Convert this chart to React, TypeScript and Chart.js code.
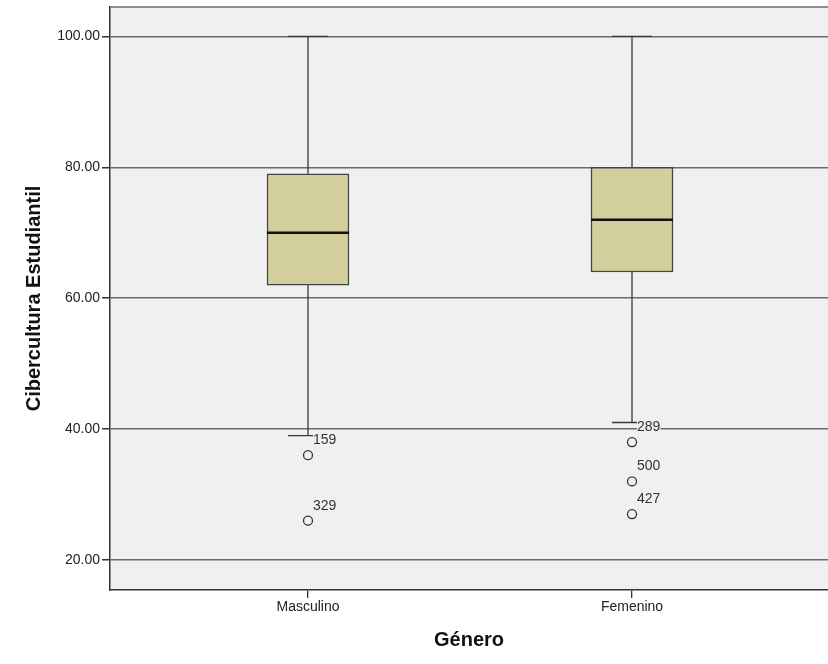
import React, { useEffect, useRef } from "react";
import { Chart, registerables } from "chart.js";

Chart.register(...registerables);

const categories = ["Masculino", "Femenino"];
const q1Values = [62, 64];
const medianValues = [70, 72];
const q3Values = [79, 80];
const whiskerLow = [39, 41];
const whiskerHigh = [100, 100];
const outlierCategory = [0, 0, 1, 1, 1];
const outlierValues = [36, 26, 38, 32, 27];
const outlierLabels = ["159", "329", "289", "500", "427"];
const yTicks = [20, 40, 60, 80, 100];
const yTickLabels = ["20.00", "40.00", "60.00", "80.00", "100.00"];
const yTitle = "Cibercultura Estudiantil";
const xTitle = "Género";

const FONT = "'Liberation Sans', Arial, Helvetica, sans-serif";
const PLOT_BG = "#f0f0f0";
const BOX_FILL = "#d3cf9c";
const LINE = "#3a3a3a";

const boxplotPlugin = {
  id: "boxplotParts",
  beforeDraw(chart: any) {
    const { ctx, chartArea } = chart;
    ctx.save();
    ctx.fillStyle = PLOT_BG;
    ctx.fillRect(chartArea.left, chartArea.top, chartArea.right - chartArea.left, chartArea.bottom - chartArea.top);
    ctx.restore();
  },
  afterDraw(chart: any) {
    const { ctx, chartArea } = chart;
    ctx.save();
    ctx.strokeStyle = "#6e6e6e";
    ctx.lineWidth = 1.5;
    ctx.beginPath();
    ctx.moveTo(chartArea.left, chartArea.top);
    ctx.lineTo(chartArea.right, chartArea.top);
    ctx.stroke();
    ctx.restore();
  },
  beforeDatasetsDraw(chart: any) {
    const { ctx } = chart;
    const xs = chart.scales.x;
    const ys = chart.scales.y;
    const meta = chart.getDatasetMeta(0);
    ctx.save();
    ctx.strokeStyle = LINE;
    ctx.lineWidth = 1.3;
    categories.forEach((_, i) => {
      const bar = meta.data[i];
      const cx = xs.getPixelForValue(i);
      const half = bar.width * 0.245;
      const yHi = ys.getPixelForValue(whiskerHigh[i]);
      const yLo = ys.getPixelForValue(whiskerLow[i]);
      const yQ3 = ys.getPixelForValue(q3Values[i]);
      const yQ1 = ys.getPixelForValue(q1Values[i]);
      ctx.beginPath();
      ctx.moveTo(cx, yQ3);
      ctx.lineTo(cx, yHi);
      ctx.moveTo(cx, yQ1);
      ctx.lineTo(cx, yLo);
      ctx.moveTo(cx - half, yHi);
      ctx.lineTo(cx + half, yHi);
      ctx.moveTo(cx - half, yLo);
      ctx.lineTo(cx + half, yLo);
      ctx.stroke();
    });
    ctx.restore();
  },
  afterDatasetsDraw(chart: any) {
    const { ctx } = chart;
    const xs = chart.scales.x;
    const ys = chart.scales.y;
    const meta = chart.getDatasetMeta(0);
    ctx.save();
    ctx.strokeStyle = "#111";
    ctx.lineWidth = 2.5;
    categories.forEach((_, i) => {
      const bar = meta.data[i];
      const y = ys.getPixelForValue(medianValues[i]);
      ctx.beginPath();
      ctx.moveTo(bar.x - bar.width / 2, y);
      ctx.lineTo(bar.x + bar.width / 2, y);
      ctx.stroke();
    });
    ctx.font = `14px ${FONT}`;
    ctx.textAlign = "left";
    ctx.textBaseline = "middle";
    outlierValues.forEach((v, k) => {
      const px = xs.getPixelForValue(outlierCategory[k]);
      const py = ys.getPixelForValue(v);
      const tx = px + 5;
      const ty = py - 15;
      const w = ctx.measureText(outlierLabels[k]).width;
      ctx.fillStyle = PLOT_BG;
      ctx.fillRect(tx, ty - 6, w, 12);
      ctx.fillStyle = "#333";
      ctx.fillText(outlierLabels[k], tx, ty);
    });
    ctx.restore();
  },
};

export default function App() {
  const ref = useRef<HTMLCanvasElement | null>(null);

  useEffect(() => {
    if (!ref.current) return;
    const chart = new Chart(ref.current, {
      type: "bar",
      data: {
        datasets: [
          {
            type: "bar",
            data: categories.map((_, i) => ({ x: i, y: [q1Values[i], q3Values[i]] })) as any,
            backgroundColor: BOX_FILL,
            borderColor: "#444",
            borderWidth: 1.5,
            borderSkipped: false,
            barThickness: 82,
          } as any,
          {
            type: "scatter",
            data: outlierValues.map((v, k) => ({ x: outlierCategory[k], y: v })),
            pointRadius: 4.5,
            pointBorderWidth: 1.3,
            pointBackgroundColor: "rgba(0,0,0,0)",
            pointBorderColor: "#333",
          } as any,
        ],
      },
      options: {
        responsive: false,
        animation: false,
        events: [],
        layout: { autoPadding: false, padding: { top: 7, right: 0, left: 0, bottom: 0 } },
        plugins: { legend: { display: false }, tooltip: { enabled: false } },
        scales: {
          x: {
            type: "linear",
            offset: false,
            min: -0.6111,
            max: 1.6049,
            afterFit: (s: any) => {
              s.height = 74;
              s.paddingLeft = 0;
              s.paddingRight = 0;
            },
            afterBuildTicks: (s: any) => {
              s.ticks = categories.map((_, i) => ({ value: i }));
            },
            grid: { offset: false, drawOnChartArea: false, drawTicks: true, tickLength: 8, tickColor: "#333", lineWidth: 1.3 },
            border: { display: true, color: "#333", width: 1.5 },
            ticks: {
              padding: 1,
              color: "#222",
              font: { family: FONT, size: 14 },
              maxRotation: 0,
              autoSkip: false,
              callback: (v: any) => categories[Math.round(Number(v))] ?? "",
            },
            title: {
              display: true,
              text: xTitle,
              color: "#111",
              font: { family: FONT, size: 20, weight: "bold" },
              padding: { top: 0, bottom: 12 },
            },
          },
          y: {
            type: "linear",
            min: 15.4,
            max: 104.5,
            afterFit: (s: any) => {
              s.width = 110;
              s.paddingTop = 0;
              s.paddingBottom = 0;
            },
            afterBuildTicks: (s: any) => {
              s.ticks = yTicks.map((v) => ({ value: v }));
            },
            grid: { color: "#6b6b6b", lineWidth: 1.5, tickLength: 8, tickColor: "#333", drawTicks: true },
            border: { display: true, color: "#333", width: 1.5 },
            ticks: {
              padding: 2,
              color: "#222",
              font: { family: FONT, size: 14 },
              callback: (v: any) => yTickLabels[yTicks.indexOf(Number(v))] ?? "",
            },
            title: {
              display: true,
              text: yTitle,
              color: "#111",
              font: { family: FONT, size: 20, weight: "bold" },
              padding: { top: 22, bottom: 0 },
            },
          },
        },
      },
      plugins: [boxplotPlugin],
    });
    return () => chart.destroy();
  }, []);

  return (
    <div style={{ position: "absolute", left: 0, top: 0, width: 828, height: 664, overflow: "hidden", background: "#fff" }}>
      <canvas ref={ref} width={828} height={664} style={{ width: 828, height: 664, display: "block" }} />
    </div>
  );
}
